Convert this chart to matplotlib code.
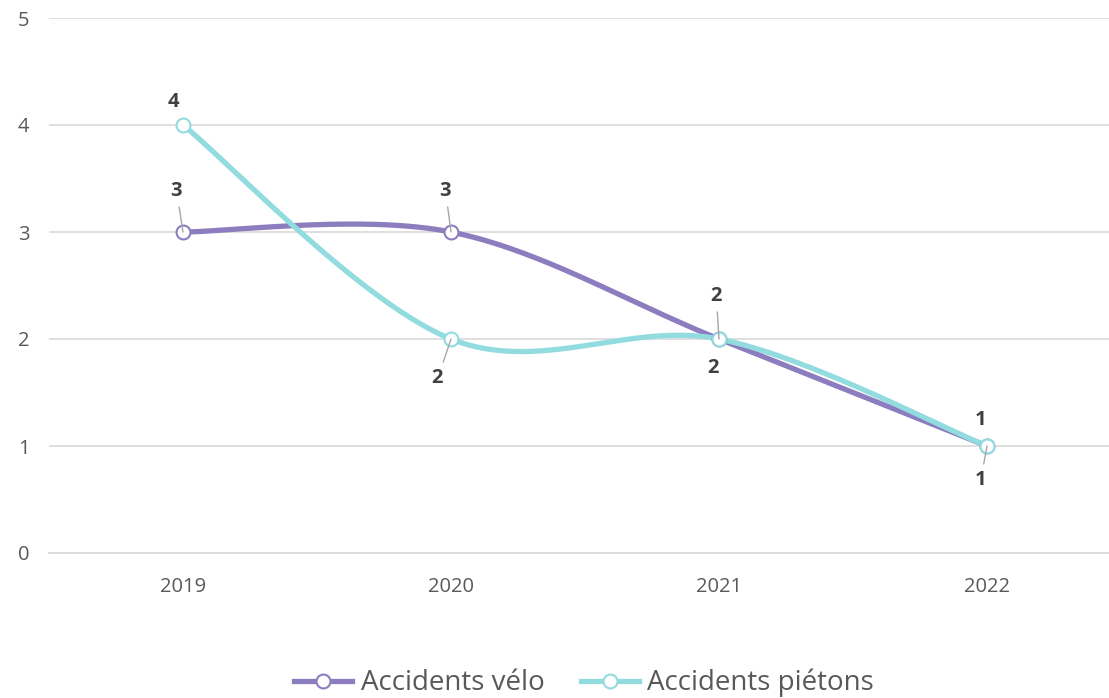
import numpy as np
import matplotlib.pyplot as plt
from matplotlib.lines import Line2D

years = ['2019', '2020', '2021', '2022']
velo = [3, 3, 2, 1]
pietons = [4, 2, 2, 1]
series_names = ['Accidents vélo', 'Accidents piétons']

plt.rcParams['font.family'] = ['Open Sans', 'DejaVu Sans']

col_velo = '#8c7dbf'
col_piet = '#92dce0'


def smooth(xs, ys, n=60):
    # bezier smoothing like the office "smoothed line"
    p = np.column_stack([xs, ys]).astype(float)
    pts = np.vstack([p[0], p, p[-1]])
    out = []
    for i in range(1, len(pts) - 2):
        p0, p1, p2, p3 = pts[i - 1], pts[i], pts[i + 1], pts[i + 2]
        c1 = p1 + (p2 - p0) / 6
        c2 = p2 - (p3 - p1) / 6
        t = np.linspace(0, 1, n)[:, None]
        b = (1 - t) ** 3 * p1 + 3 * (1 - t) ** 2 * t * c1 + 3 * (1 - t) * t ** 2 * c2 + t ** 3 * p2
        out.append(b)
    out = np.vstack(out)
    return out[:, 0], out[:, 1]


fig = plt.figure(figsize=(11.09, 6.98), dpi=100)
ax = fig.add_axes([49 / 1109, 1 - 553 / 698, 1072 / 1109, 535 / 698])

x = np.arange(len(years))
for vals, col in [(velo, col_velo), (pietons, col_piet)]:
    sx, sy = smooth(x, vals)
    ax.plot(sx, sy, color=col, lw=3.8, solid_capstyle='round', zorder=3)
    ax.plot(x, vals, 'o', ms=10, mfc='white', mec=col, mew=1.5, zorder=4)

ax.set_xlim(-0.5, 3.5)
ax.set_ylim(0, 5)
ax.set_yticks(range(6))
ax.set_xticks(x)
ax.set_xticklabels(years)
ax.grid(axis='y', color='#d9d9d9', lw=1.2)
ax.set_axisbelow(True)
for s in ax.spines.values():
    s.set_visible(False)
ax.spines['bottom'].set_visible(True)
ax.spines['bottom'].set_color('#d9d9d9')
ax.spines['bottom'].set_linewidth(1.2)
ax.tick_params(length=0, labelsize=14.5, labelcolor='#595959')
ax.tick_params(axis='x', pad=17)
ax.tick_params(axis='y', pad=14)

# data labels: (x index, value, dx px, dy px, leader)
lab_kw = dict(fontsize=14.5, fontweight='bold', color='#404040', ha='center', va='center')
velo_off = [(-7, 41, True), (-6, 41, True), (-3, 43, True), (-6, 26, False)]
piet_off = [(-10, 23, False), (-14, -39, True), (-6, -29, False), (-6, -34, True)]
for vals, offs in [(velo, velo_off), (pietons, piet_off)]:
    for i, (v, (dx, dy, lead)) in enumerate(zip(vals, offs)):
        ax.annotate(str(v), (i, v), xytext=(dx, dy), textcoords='offset pixels', **lab_kw)
        if lead:
            sgn = 1 if dy > 0 else -1
            ax.annotate('', (i, v), xytext=(dx * 0.55, dy - sgn * 16), textcoords='offset pixels',
                        arrowprops=dict(arrowstyle='-', color='#a6a6a6', lw=1, shrinkA=0, shrinkB=0),
                        zorder=5)

handles = [Line2D([], [], color=c, lw=3.8, marker='o', ms=10, mfc='white', mec=c, mew=1.5)
           for c in (col_velo, col_piet)]
fig.legend(handles, series_names, loc='center', bbox_to_anchor=(584 / 1109, 1 - 683 / 698),
           ncol=2, frameon=False, fontsize=20, labelcolor='#595959', handlelength=2.1,
           handletextpad=0.3, columnspacing=1.3)

fig.savefig('out.png', dpi=100)
